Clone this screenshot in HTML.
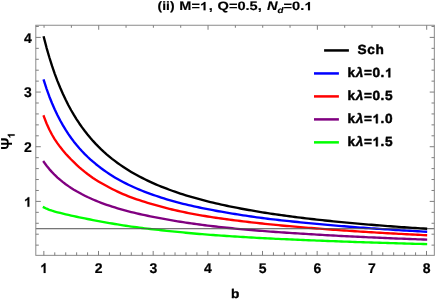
<!DOCTYPE html>
<html><head><meta charset="utf-8"><title>plot</title>
<style>
html,body{margin:0;padding:0;background:#fff;}
body{width:436px;height:300px;overflow:hidden;}
svg{display:block;will-change:transform;}
svg{stroke-width:0.45px;}
text{font-family:"Liberation Sans",sans-serif;font-weight:bold;fill:#000;stroke:#000;stroke-linejoin:round;text-rendering:geometricPrecision;}
.h{visibility:hidden;}
.one{fill:#000;stroke:#000;stroke-linejoin:round;vector-effect:non-scaling-stroke;}
</style></head><body>
<svg width="436" height="300" viewBox="0 0 436 300">
<rect width="436" height="300" fill="#fff"/>
<path d="M43.85,80.47 L46.58,88.85 L49.31,96.44 L52.04,103.28 L54.77,109.53 L57.50,115.27 L60.23,120.55 L62.96,125.43 L65.69,129.95 L68.42,134.13 L71.15,138.03 L73.88,141.66 L76.61,145.05 L79.34,148.24 L82.07,151.24 L84.80,154.07 L87.52,156.74 L90.25,159.28 L92.98,161.68 L95.71,163.97 L98.44,166.15 L101.17,168.24 L103.90,170.23 L106.63,172.13 L109.36,173.96 L112.09,175.70 L114.82,177.38 L117.55,178.98 L120.28,180.52 L123.01,182.00 L125.74,183.41 L128.47,184.76 L131.20,186.05 L133.93,187.29 L136.66,188.48 L139.39,189.63 L142.12,190.73 L144.85,191.80 L147.58,192.84 L150.31,193.84 L153.04,194.81 L155.77,195.75 L158.50,196.67 L161.23,197.56 L163.96,198.42 L166.69,199.26 L169.42,200.07 L172.15,200.86 L174.87,201.63 L177.60,202.37 L180.33,203.09 L183.06,203.78 L185.79,204.45 L188.52,205.10 L191.25,205.73 L193.98,206.34 L196.71,206.93 L199.44,207.51 L202.17,208.07 L204.90,208.63 L207.63,209.17 L210.36,209.70 L213.09,210.22 L215.82,210.73 L218.55,211.22 L221.28,211.71 L224.01,212.19 L226.74,212.65 L229.47,213.11 L232.20,213.56 L234.93,214.00 L237.66,214.44 L240.39,214.87 L243.12,215.29 L245.85,215.71 L248.58,216.11 L251.31,216.51 L254.04,216.91 L256.77,217.29 L259.50,217.66 L262.22,218.03 L264.95,218.38 L267.68,218.72 L270.41,219.06 L273.14,219.38 L275.87,219.70 L278.60,220.01 L281.33,220.32 L284.06,220.62 L286.79,220.92 L289.52,221.20 L292.25,221.49 L294.98,221.77 L297.71,222.04 L300.44,222.31 L303.17,222.58 L305.90,222.85 L308.63,223.12 L311.36,223.38 L314.09,223.64 L316.82,223.90 L319.55,224.16 L322.28,224.41 L325.01,224.66 L327.74,224.90 L330.47,225.14 L333.20,225.38 L335.93,225.61 L338.66,225.84 L341.39,226.07 L344.12,226.29 L346.85,226.51 L349.57,226.73 L352.30,226.94 L355.03,227.15 L357.76,227.36 L360.49,227.56 L363.22,227.76 L365.95,227.96 L368.68,228.16 L371.41,228.35 L374.14,228.54 L376.87,228.73 L379.60,228.91 L382.33,229.09 L385.06,229.27 L387.79,229.45 L390.52,229.63 L393.25,229.80 L395.98,229.97 L398.71,230.14 L401.44,230.31 L404.17,230.47 L406.90,230.63 L409.63,230.79 L412.36,230.95 L415.09,231.11 L417.82,231.26 L420.55,231.42 L423.28,231.57 L426.01,231.71" fill="none" stroke="#0000ff" stroke-width="2.35" stroke-linejoin="round" stroke-linecap="square"/>
<path d="M43.85,116.33 L46.58,123.52 L49.31,129.52 L52.04,134.74 L54.77,139.33 L57.50,143.41 L60.23,147.11 L62.96,150.51 L65.69,153.67 L68.42,156.65 L71.15,159.49 L73.88,162.20 L76.61,164.80 L79.34,167.29 L82.07,169.67 L84.80,171.92 L87.52,174.04 L90.25,176.04 L92.98,177.93 L95.71,179.71 L98.44,181.40 L101.17,183.02 L103.90,184.58 L106.63,186.08 L109.36,187.53 L112.09,188.94 L114.82,190.29 L117.55,191.60 L120.28,192.85 L123.01,194.05 L125.74,195.20 L128.47,196.30 L131.20,197.34 L133.93,198.34 L136.66,199.30 L139.39,200.23 L142.12,201.13 L144.85,201.99 L147.58,202.84 L150.31,203.65 L153.04,204.45 L155.77,205.23 L158.50,205.99 L161.23,206.73 L163.96,207.45 L166.69,208.15 L169.42,208.83 L172.15,209.49 L174.87,210.14 L177.60,210.76 L180.33,211.36 L183.06,211.95 L185.79,212.51 L188.52,213.06 L191.25,213.59 L193.98,214.10 L196.71,214.61 L199.44,215.10 L202.17,215.57 L204.90,216.03 L207.63,216.48 L210.36,216.91 L213.09,217.33 L215.82,217.73 L218.55,218.13 L221.28,218.51 L224.01,218.89 L226.74,219.25 L229.47,219.61 L232.20,219.97 L234.93,220.32 L237.66,220.66 L240.39,221.00 L243.12,221.34 L245.85,221.67 L248.58,222.00 L251.31,222.32 L254.04,222.63 L256.77,222.94 L259.50,223.24 L262.22,223.54 L264.95,223.83 L267.68,224.11 L270.41,224.39 L273.14,224.67 L275.87,224.93 L278.60,225.20 L281.33,225.46 L284.06,225.71 L286.79,225.96 L289.52,226.20 L292.25,226.44 L294.98,226.68 L297.71,226.91 L300.44,227.14 L303.17,227.37 L305.90,227.59 L308.63,227.82 L311.36,228.04 L314.09,228.26 L316.82,228.48 L319.55,228.69 L322.28,228.90 L325.01,229.11 L327.74,229.32 L330.47,229.52 L333.20,229.72 L335.93,229.92 L338.66,230.11 L341.39,230.30 L344.12,230.49 L346.85,230.67 L349.57,230.86 L352.30,231.04 L355.03,231.22 L357.76,231.40 L360.49,231.57 L363.22,231.75 L365.95,231.92 L368.68,232.09 L371.41,232.26 L374.14,232.42 L376.87,232.58 L379.60,232.74 L382.33,232.90 L385.06,233.06 L387.79,233.21 L390.52,233.37 L393.25,233.52 L395.98,233.66 L398.71,233.81 L401.44,233.95 L404.17,234.10 L406.90,234.24 L409.63,234.38 L412.36,234.51 L415.09,234.65 L417.82,234.78 L420.55,234.92 L423.28,235.05 L426.01,235.18" fill="none" stroke="#ff0000" stroke-width="2.35" stroke-linejoin="round" stroke-linecap="square"/>
<path d="M43.85,161.97 L46.58,165.72 L49.31,169.10 L52.04,172.15 L54.77,174.95 L57.50,177.52 L60.23,179.91 L62.96,182.13 L65.69,184.20 L68.42,186.14 L71.15,187.96 L73.88,189.68 L76.61,191.31 L79.34,192.85 L82.07,194.32 L84.80,195.71 L87.52,197.04 L90.25,198.30 L92.98,199.51 L95.71,200.65 L98.44,201.75 L101.17,202.80 L103.90,203.81 L106.63,204.77 L109.36,205.70 L112.09,206.60 L114.82,207.46 L117.55,208.29 L120.28,209.09 L123.01,209.87 L125.74,210.62 L128.47,211.34 L131.20,212.05 L133.93,212.72 L136.66,213.37 L139.39,214.00 L142.12,214.60 L144.85,215.19 L147.58,215.75 L150.31,216.29 L153.04,216.83 L155.77,217.36 L158.50,217.89 L161.23,218.41 L163.96,218.92 L166.69,219.42 L169.42,219.91 L172.15,220.38 L174.87,220.85 L177.60,221.30 L180.33,221.74 L183.06,222.17 L185.79,222.58 L188.52,222.99 L191.25,223.38 L193.98,223.77 L196.71,224.14 L199.44,224.51 L202.17,224.87 L204.90,225.22 L207.63,225.56 L210.36,225.89 L213.09,226.22 L215.82,226.53 L218.55,226.84 L221.28,227.14 L224.01,227.43 L226.74,227.72 L229.47,228.00 L232.20,228.28 L234.93,228.55 L237.66,228.81 L240.39,229.07 L243.12,229.32 L245.85,229.56 L248.58,229.81 L251.31,230.04 L254.04,230.27 L256.77,230.50 L259.50,230.72 L262.22,230.94 L264.95,231.15 L267.68,231.36 L270.41,231.57 L273.14,231.77 L275.87,231.96 L278.60,232.16 L281.33,232.35 L284.06,232.53 L286.79,232.72 L289.52,232.90 L292.25,233.08 L294.98,233.25 L297.71,233.42 L300.44,233.59 L303.17,233.76 L305.90,233.93 L308.63,234.09 L311.36,234.26 L314.09,234.42 L316.82,234.59 L319.55,234.75 L322.28,234.91 L325.01,235.06 L327.74,235.22 L330.47,235.37 L333.20,235.52 L335.93,235.67 L338.66,235.82 L341.39,235.96 L344.12,236.10 L346.85,236.24 L349.57,236.38 L352.30,236.52 L355.03,236.65 L357.76,236.78 L360.49,236.91 L363.22,237.04 L365.95,237.17 L368.68,237.30 L371.41,237.42 L374.14,237.54 L376.87,237.66 L379.60,237.78 L382.33,237.90 L385.06,238.01 L387.79,238.13 L390.52,238.24 L393.25,238.35 L395.98,238.46 L398.71,238.57 L401.44,238.68 L404.17,238.79 L406.90,238.89 L409.63,238.99 L412.36,239.10 L415.09,239.20 L417.82,239.30 L420.55,239.40 L423.28,239.50 L426.01,239.59" fill="none" stroke="#800080" stroke-width="2.35" stroke-linejoin="round" stroke-linecap="square"/>
<path d="M43.85,207.36 L46.58,208.69 L49.31,209.81 L52.04,210.72 L54.77,211.52 L57.50,212.26 L60.23,212.95 L62.96,213.62 L65.69,214.27 L68.42,214.91 L71.15,215.54 L73.88,216.15 L76.61,216.75 L79.34,217.33 L82.07,217.90 L84.80,218.45 L87.52,218.99 L90.25,219.52 L92.98,220.04 L95.71,220.55 L98.44,221.06 L101.17,221.57 L103.90,222.07 L106.63,222.56 L109.36,223.05 L112.09,223.52 L114.82,223.99 L117.55,224.45 L120.28,224.90 L123.01,225.33 L125.74,225.75 L128.47,226.15 L131.20,226.54 L133.93,226.92 L136.66,227.28 L139.39,227.63 L142.12,227.98 L144.85,228.32 L147.58,228.65 L150.31,228.98 L153.04,229.30 L155.77,229.61 L158.50,229.92 L161.23,230.22 L163.96,230.52 L166.69,230.81 L169.42,231.10 L172.15,231.38 L174.87,231.65 L177.60,231.92 L180.33,232.19 L183.06,232.45 L185.79,232.72 L188.52,232.97 L191.25,233.23 L193.98,233.48 L196.71,233.72 L199.44,233.96 L202.17,234.19 L204.90,234.42 L207.63,234.63 L210.36,234.84 L213.09,235.04 L215.82,235.23 L218.55,235.42 L221.28,235.60 L224.01,235.78 L226.74,235.96 L229.47,236.13 L232.20,236.30 L234.93,236.47 L237.66,236.65 L240.39,236.82 L243.12,236.99 L245.85,237.16 L248.58,237.32 L251.31,237.49 L254.04,237.65 L256.77,237.81 L259.50,237.96 L262.22,238.11 L264.95,238.25 L267.68,238.39 L270.41,238.53 L273.14,238.66 L275.87,238.80 L278.60,238.92 L281.33,239.05 L284.06,239.17 L286.79,239.29 L289.52,239.41 L292.25,239.53 L294.98,239.65 L297.71,239.76 L300.44,239.87 L303.17,239.99 L305.90,240.10 L308.63,240.21 L311.36,240.32 L314.09,240.44 L316.82,240.55 L319.55,240.66 L322.28,240.77 L325.01,240.88 L327.74,240.98 L330.47,241.09 L333.20,241.19 L335.93,241.29 L338.66,241.40 L341.39,241.49 L344.12,241.59 L346.85,241.69 L349.57,241.79 L352.30,241.88 L355.03,241.98 L357.76,242.07 L360.49,242.16 L363.22,242.26 L365.95,242.35 L368.68,242.44 L371.41,242.52 L374.14,242.61 L376.87,242.70 L379.60,242.78 L382.33,242.87 L385.06,242.95 L387.79,243.03 L390.52,243.11 L393.25,243.19 L395.98,243.27 L398.71,243.35 L401.44,243.43 L404.17,243.50 L406.90,243.58 L409.63,243.65 L412.36,243.73 L415.09,243.80 L417.82,243.87 L420.55,243.94 L423.28,244.01 L426.01,244.08" fill="none" stroke="#00ff00" stroke-width="2.35" stroke-linejoin="round" stroke-linecap="square"/>
<line x1="35.8" y1="228.73" x2="434.33" y2="228.73" stroke="#505050" stroke-width="1"/>
<path d="M43.85,37.40 L46.58,47.80 L49.31,57.25 L52.04,65.89 L54.77,73.80 L57.50,81.09 L60.23,87.81 L62.96,94.04 L65.69,99.82 L68.42,105.20 L71.15,110.23 L73.88,114.93 L76.61,119.33 L79.34,123.47 L82.07,127.37 L84.80,131.04 L87.52,134.52 L90.25,137.80 L92.98,140.91 L95.71,143.86 L98.44,146.66 L101.17,149.33 L103.90,151.87 L106.63,154.29 L109.36,156.60 L112.09,158.81 L114.82,160.92 L117.55,162.95 L120.28,164.89 L123.01,166.75 L125.74,168.53 L128.47,170.25 L131.20,171.90 L133.93,173.48 L136.66,175.01 L139.39,176.49 L142.12,177.91 L144.85,179.28 L147.58,180.60 L150.31,181.88 L153.04,183.12 L155.77,184.31 L158.50,185.47 L161.23,186.59 L163.96,187.67 L166.69,188.72 L169.42,189.74 L172.15,190.73 L174.87,191.69 L177.60,192.63 L180.33,193.53 L183.06,194.41 L185.79,195.27 L188.52,196.10 L191.25,196.91 L193.98,197.70 L196.71,198.47 L199.44,199.22 L202.17,199.94 L204.90,200.65 L207.63,201.35 L210.36,202.02 L213.09,202.68 L215.82,203.32 L218.55,203.95 L221.28,204.57 L224.01,205.16 L226.74,205.75 L229.47,206.32 L232.20,206.88 L234.93,207.43 L237.66,207.96 L240.39,208.48 L243.12,208.99 L245.85,209.49 L248.58,209.98 L251.31,210.46 L254.04,210.93 L256.77,211.40 L259.50,211.85 L262.22,212.29 L264.95,212.72 L267.68,213.15 L270.41,213.56 L273.14,213.97 L275.87,214.37 L278.60,214.77 L281.33,215.15 L284.06,215.53 L286.79,215.90 L289.52,216.27 L292.25,216.63 L294.98,216.98 L297.71,217.32 L300.44,217.66 L303.17,218.00 L305.90,218.33 L308.63,218.65 L311.36,218.97 L314.09,219.28 L316.82,219.58 L319.55,219.88 L322.28,220.18 L325.01,220.47 L327.74,220.76 L330.47,221.04 L333.20,221.32 L335.93,221.59 L338.66,221.86 L341.39,222.13 L344.12,222.39 L346.85,222.65 L349.57,222.90 L352.30,223.15 L355.03,223.39 L357.76,223.64 L360.49,223.87 L363.22,224.11 L365.95,224.34 L368.68,224.57 L371.41,224.79 L374.14,225.02 L376.87,225.23 L379.60,225.45 L382.33,225.66 L385.06,225.87 L387.79,226.08 L390.52,226.28 L393.25,226.48 L395.98,226.68 L398.71,226.88 L401.44,227.07 L404.17,227.26 L406.90,227.45 L409.63,227.64 L412.36,227.82 L415.09,228.00 L417.82,228.18 L420.55,228.36 L423.28,228.53 L426.01,228.70" fill="none" stroke="#000000" stroke-width="2.35" stroke-linejoin="round" stroke-linecap="square"/>
<g stroke="#7e7e7e" stroke-width="1" fill="none">
<rect x="35.8" y="25.25" width="398.53" height="230.10" stroke="#8a8a8a"/>
<path d="M43.85,255.35 v-4.4 M54.78,255.35 v-3.0 M65.72,255.35 v-3.0 M76.65,255.35 v-3.0 M87.58,255.35 v-3.0 M98.51,255.35 v-4.4 M109.45,255.35 v-3.0 M120.38,255.35 v-3.0 M131.31,255.35 v-3.0 M142.25,255.35 v-3.0 M153.18,255.35 v-4.4 M164.11,255.35 v-3.0 M175.04,255.35 v-3.0 M185.98,255.35 v-3.0 M196.91,255.35 v-3.0 M207.84,255.35 v-4.4 M218.77,255.35 v-3.0 M229.71,255.35 v-3.0 M240.64,255.35 v-3.0 M251.57,255.35 v-3.0 M262.51,255.35 v-4.4 M273.44,255.35 v-3.0 M284.37,255.35 v-3.0 M295.30,255.35 v-3.0 M306.24,255.35 v-3.0 M317.17,255.35 v-4.4 M328.10,255.35 v-3.0 M339.04,255.35 v-3.0 M349.97,255.35 v-3.0 M360.90,255.35 v-3.0 M371.83,255.35 v-4.4 M382.77,255.35 v-3.0 M393.70,255.35 v-3.0 M404.63,255.35 v-3.0 M415.57,255.35 v-3.0 M426.50,255.35 v-4.4 M44.05,25.25 v2.5 M71.38,25.25 v2.5 M98.71,25.25 v4.5 M126.05,25.25 v2.5 M153.38,25.25 v2.5 M180.71,25.25 v2.5 M208.04,25.25 v4.5 M235.37,25.25 v2.5 M262.71,25.25 v2.5 M290.04,25.25 v2.5 M317.37,25.25 v4.5 M344.70,25.25 v2.5 M372.03,25.25 v2.5 M399.37,25.25 v2.5 M426.70,25.25 v4.5 M35.8,245.13 h3.0 M434.33,245.13 h-2.8 M35.8,234.20 h3.0 M434.33,234.20 h-2.8 M35.8,223.27 h3.0 M434.33,223.27 h-2.8 M35.8,212.33 h3.0 M434.33,212.33 h-2.8 M35.8,201.40 h5.0 M434.33,201.40 h-4.6 M35.8,190.47 h3.0 M434.33,190.47 h-2.8 M35.8,179.53 h3.0 M434.33,179.53 h-2.8 M35.8,168.60 h3.0 M434.33,168.60 h-2.8 M35.8,157.67 h3.0 M434.33,157.67 h-2.8 M35.8,146.73 h5.0 M434.33,146.73 h-4.6 M35.8,135.80 h3.0 M434.33,135.80 h-2.8 M35.8,124.87 h3.0 M434.33,124.87 h-2.8 M35.8,113.93 h3.0 M434.33,113.93 h-2.8 M35.8,103.00 h3.0 M434.33,103.00 h-2.8 M35.8,92.07 h5.0 M434.33,92.07 h-4.6 M35.8,81.13 h3.0 M434.33,81.13 h-2.8 M35.8,70.20 h3.0 M434.33,70.20 h-2.8 M35.8,59.27 h3.0 M434.33,59.27 h-2.8 M35.8,48.33 h3.0 M434.33,48.33 h-2.8 M35.8,37.40 h5.0 M434.33,37.40 h-4.6 M35.8,26.47 h3.0 M434.33,26.47 h-2.8"/>
</g>
<g transform="translate(44.00,272.90)" style="stroke-width:0.2px"><text font-size="14.0" text-anchor="middle" style="stroke-width:0.2px"><tspan class="h">1</tspan></text><path class="one" transform="translate(-3.723,0.000) scale(0.006528,-0.006528)" d="M806 0H525V1059Q371 915 162 846V1101Q272 1137 401 1237.5Q530 1338 578 1472H806Z"/></g>
<g transform="translate(98.66,272.90)" style="stroke-width:0.2px"><text font-size="14.0" text-anchor="middle" style="stroke-width:0.2px">2</text></g>
<g transform="translate(153.33,272.90)" style="stroke-width:0.2px"><text font-size="14.0" text-anchor="middle" style="stroke-width:0.2px">3</text></g>
<g transform="translate(207.99,272.90)" style="stroke-width:0.2px"><text font-size="14.0" text-anchor="middle" style="stroke-width:0.2px">4</text></g>
<g transform="translate(262.66,272.90)" style="stroke-width:0.2px"><text font-size="14.0" text-anchor="middle" style="stroke-width:0.2px">5</text></g>
<g transform="translate(317.32,272.90)" style="stroke-width:0.2px"><text font-size="14.0" text-anchor="middle" style="stroke-width:0.2px">6</text></g>
<g transform="translate(371.98,272.90)" style="stroke-width:0.2px"><text font-size="14.0" text-anchor="middle" style="stroke-width:0.2px">7</text></g>
<g transform="translate(426.65,272.90)" style="stroke-width:0.2px"><text font-size="14.0" text-anchor="middle" style="stroke-width:0.2px">8</text></g>
<g transform="translate(31.70,206.75)" style="stroke-width:0.2px"><text font-size="14.0" text-anchor="end" style="stroke-width:0.2px"><tspan class="h">1</tspan></text><path class="one" transform="translate(-7.622,0.000) scale(0.006528,-0.006528)" d="M806 0H525V1059Q371 915 162 846V1101Q272 1137 401 1237.5Q530 1338 578 1472H806Z"/></g>
<g transform="translate(31.70,152.08)" style="stroke-width:0.2px"><text font-size="14.0" text-anchor="end" style="stroke-width:0.2px">2</text></g>
<g transform="translate(31.70,97.42)" style="stroke-width:0.2px"><text font-size="14.0" text-anchor="end" style="stroke-width:0.2px">3</text></g>
<g transform="translate(31.70,42.75)" style="stroke-width:0.2px"><text font-size="14.0" text-anchor="end" style="stroke-width:0.2px">4</text></g>
<g transform="translate(235.30,297.70) scale(1.08,1)" style="stroke-width:0.3px"><text font-size="12.7" text-anchor="middle" style="stroke-width:0.3px">b</text></g>
<g transform="translate(11.95,149.75) rotate(-90) scale(0.94,1)" style="stroke-width:0px"><text font-size="15.9" text-anchor="start" style="stroke-width:0px">&#936;</text></g>
<g transform="translate(14.70,138.30) rotate(-90)" style="stroke-width:0.1px"><text font-size="10.2" text-anchor="start" style="stroke-width:0.1px"><tspan class="h">1</tspan></text><path class="one" transform="translate(0.128,0.000) scale(0.004756,-0.004756)" d="M806 0H525V1059Q371 915 162 846V1101Q272 1137 401 1237.5Q530 1338 578 1472H806Z"/></g>
<g transform="translate(157.60,10.30) scale(1.14,1)" style="stroke-width:0.15px"><text font-size="12.2" text-anchor="start" style="stroke-width:0.15px">(ii)</text></g>
<g transform="translate(179.30,10.30) scale(1.19,1)" style="stroke-width:0.15px"><text font-size="12.2" text-anchor="start" style="stroke-width:0.15px">M=<tspan class="h">1</tspan><tspan dx="0.6">,</tspan></text><path class="one" transform="translate(17.434,0.000) scale(0.005689,-0.005689)" d="M806 0H525V1059Q371 915 162 846V1101Q272 1137 401 1237.5Q530 1338 578 1472H806Z"/></g>
<g transform="translate(217.50,10.30) scale(1.2,1)" style="stroke-width:0.15px"><text font-size="12.2" text-anchor="start" style="stroke-width:0.15px">Q=0.5,</text></g>
<g transform="translate(266.90,10.30) scale(1.2,1)" style="stroke-width:0.15px"><text font-size="12.2" text-anchor="start" style="stroke-width:0.15px"><tspan font-style="italic">N</tspan><tspan font-style="italic" font-size="8.2" dy="2.2">d</tspan><tspan dy="-2.2">=0.<tspan class="h">1</tspan></tspan></text><path class="one" transform="translate(31.278,0.000) scale(0.005689,-0.005689)" d="M806 0H525V1059Q371 915 162 846V1101Q272 1137 401 1237.5Q530 1338 578 1472H806Z"/></g>
<line x1="324.1" y1="50.44" x2="348.9" y2="50.44" stroke="#000000" stroke-width="2.5"/>
<g transform="translate(357.60,54.39) scale(1.025,1)"><text font-size="13.3" text-anchor="start" letter-spacing="0.55">Sch</text></g>
<line x1="314.0" y1="73.44" x2="338.9" y2="73.44" stroke="#0000ff" stroke-width="2.5"/>
<g transform="translate(347.60,77.34) scale(1.025,1)"><text font-size="13.3" text-anchor="start" letter-spacing="0.55">k<tspan font-style="italic">&#955;</tspan>=0.<tspan class="h">1</tspan></text><path class="one" transform="translate(36.588,0.000) scale(0.006202,-0.006202)" d="M806 0H525V1059Q371 915 162 846V1101Q272 1137 401 1237.5Q530 1338 578 1472H806Z"/></g>
<line x1="314.0" y1="96.41" x2="338.9" y2="96.41" stroke="#ff0000" stroke-width="2.5"/>
<g transform="translate(347.60,100.31) scale(1.025,1)"><text font-size="13.3" text-anchor="start" letter-spacing="0.55">k<tspan font-style="italic">&#955;</tspan>=0.5</text></g>
<line x1="314.0" y1="119.39" x2="338.9" y2="119.39" stroke="#800080" stroke-width="2.5"/>
<g transform="translate(347.60,123.29) scale(1.025,1)"><text font-size="13.3" text-anchor="start" letter-spacing="0.55">k<tspan font-style="italic">&#955;</tspan>=<tspan class="h">1</tspan>.0</text><path class="one" transform="translate(24.401,0.000) scale(0.006202,-0.006202)" d="M806 0H525V1059Q371 915 162 846V1101Q272 1137 401 1237.5Q530 1338 578 1472H806Z"/></g>
<line x1="314.0" y1="142.36" x2="338.9" y2="142.36" stroke="#00ff00" stroke-width="2.5"/>
<g transform="translate(347.60,146.26) scale(1.025,1)"><text font-size="13.3" text-anchor="start" letter-spacing="0.55">k<tspan font-style="italic">&#955;</tspan>=<tspan class="h">1</tspan>.5</text><path class="one" transform="translate(24.401,0.000) scale(0.006202,-0.006202)" d="M806 0H525V1059Q371 915 162 846V1101Q272 1137 401 1237.5Q530 1338 578 1472H806Z"/></g>
</svg></body></html>
